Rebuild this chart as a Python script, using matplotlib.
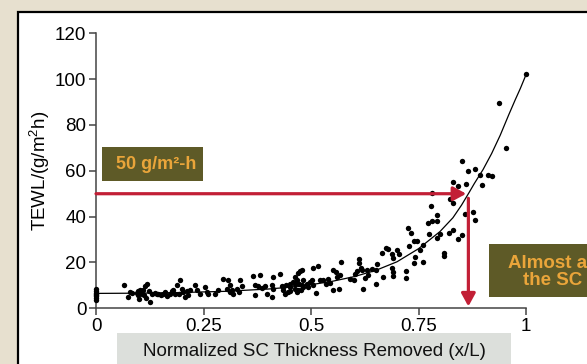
import numpy as np
import matplotlib
matplotlib.use('Agg')
import matplotlib.pyplot as plt
from matplotlib.patches import Rectangle

plt.rcParams['font.family'] = ['Liberation Sans', 'DejaVu Sans']
plt.rcParams['mathtext.default'] = 'regular'

# measured TEWL vs fraction of stratum corneum removed
x_pts = [0, 0, 0, 0, 0, 0, 0, 0,
         0.065, 0.078, 0.083, 0.075, 0.095, 0.098, 0.101, 0.097, 0.102, 0.106,
         0.11, 0.114, 0.118, 0.112, 0.116, 0.124, 0.13, 0.126, 0.137, 0.141,
         0.145, 0.15, 0.156, 0.16, 0.166, 0.171, 0.176, 0.18, 0.184, 0.189,
         0.194, 0.195, 0.199, 0.203, 0.207, 0.211, 0.215, 0.219, 0.23, 0.234,
         0.242, 0.253, 0.257, 0.261, 0.277, 0.284, 0.296, 0.308, 0.312, 0.304,
         0.316, 0.312, 0.319, 0.327, 0.335, 0.339, 0.333, 0.366, 0.381, 0.37,
         0.377, 0.385, 0.393, 0.37, 0.397, 0.409, 0.411, 0.412, 0.409, 0.428,
         0.432, 0.436, 0.443, 0.451, 0.459, 0.463, 0.47, 0.451, 0.467, 0.478,
         0.49, 0.451, 0.447, 0.436, 0.44, 0.468, 0.474, 0.479, 0.463, 0.463,
         0.47, 0.473, 0.482, 0.482, 0.477, 0.498, 0.494, 0.502, 0.505, 0.512,
         0.505, 0.517, 0.521, 0.529, 0.54, 0.544, 0.535, 0.552, 0.558, 0.567,
         0.56, 0.566, 0.552, 0.57, 0.591, 0.6, 0.602, 0.611, 0.612, 0.616,
         0.608, 0.619, 0.62, 0.626, 0.631, 0.633, 0.641, 0.651, 0.653, 0.65,
         0.665, 0.674, 0.678, 0.668, 0.689, 0.701, 0.691, 0.704, 0.689, 0.691,
         0.69, 0.72, 0.721, 0.74, 0.742, 0.76, 0.727, 0.739, 0.746, 0.725,
         0.732, 0.753, 0.761, 0.771, 0.782, 0.792, 0.774, 0.8, 0.792, 0.779,
         0.782, 0.792, 0.809, 0.809, 0.822, 0.831, 0.823, 0.831, 0.843, 0.852,
         0.857, 0.877, 0.881, 0.831, 0.842, 0.86, 0.897, 0.852, 0.866, 0.881,
         0.894, 0.912, 0.92, 0.938, 0.954, 1.0]
y_pts = [3.5, 4.5, 5.2, 5.8, 6.3, 6.8, 7.5, 8.3,
         10.3, 7.1, 6.7, 4.9, 6.7, 5.7, 4.2, 7.5, 8.2, 6.4,
         7.9, 9.6, 10.5, 5.7, 4.7, 7.6, 6.1, 2.8, 6.7, 6.1,
         6.4, 5.7, 6.1, 6.9, 5.2, 6.4, 7.6, 8.2, 6.1, 10,
         6.4, 12.5, 8.6, 7.1, 4.9, 7.6, 5.7, 8.2, 10, 7.9,
         6.4, 9.3, 7.1, 6.1, 6.1, 8.2, 13, 12.5, 10, 8.6,
         8.2, 7.1, 6.4, 8.6, 12.2, 9.6, 7.1, 14, 14.4, 10,
         9.6, 9, 9.6, 5.7, 6.4, 10, 13.7, 8.6, 4.9, 15.1,
         9.6, 7.9, 10, 10.5, 11.5, 13.7, 15.4, 7.6, 7.1, 10,
         10.8, 9.3, 7.1, 9.3, 6.4, 12.5, 16.3, 16.9, 10.5, 8.6,
         7.9, 10.8, 12.2, 9.3, 7.9, 11.5, 9.3, 12.2, 10, 6.7,
         17.8, 18.3, 12.2, 12.2, 13, 11.2, 10.8, 16.9, 15.8, 14.7,
         13.7, 8.6, 8.2, 20.4, 13, 12.2, 14.8, 21.7, 19.8, 17.8,
         16.3, 16.6, 8.6, 13.2, 16.6, 14.7, 17, 16.9, 19.2, 10.5,
         24.1, 26.5, 25.7, 13.7, 23.9, 25.6, 22.1, 23.6, 17.8, 15.8,
         14.3, 16.3, 13.4, 19.9, 22.4, 20.1, 27.2, 29.2, 29.2, 35,
         33, 25.3, 27.5, 37.4, 38, 38, 32.3, 32.3, 30.7, 44.5,
         50.3, 40.6, 24.3, 22.7, 33, 34, 47.6, 46, 30.1, 31.8,
         41, 42, 38.4, 55.3, 53.2, 54.1, 53.7, 64.1, 59.8, 60.6,
         58, 58, 57.6, 89.6, 69.9, 102.4]

# fitted trend line
fit_x = [0, 0.1, 0.2, 0.3, 0.4, 0.45, 0.5, 0.55, 0.6, 0.65, 0.7, 0.75,
         0.8, 0.83, 0.85, 0.866, 0.88, 0.9, 0.92, 0.94, 0.96, 0.975, 0.987, 0.998]
fit_y = [6.5, 6.6, 6.9, 7.4, 8.4, 9.2, 10.3, 11.8, 13.8, 16.5, 20.3, 26,
         33.5, 39.5, 45, 50, 54.5, 60.5, 67.5, 75.5, 84.5, 91, 96, 101]

xticks = [0, 0.25, 0.5, 0.75, 1]
xticklabels = ['0', '0.25', '0.5', '0.75', '1']
yticks = [0, 20, 40, 60, 80, 100, 120]

target_tewl = 50
target_frac = 0.864

W, H = 587.0, 364.0
bg = '#e7e0cf'
olive = '#5e5a27'
gold = '#eaa53a'
red = '#c21f36'


def fx(px):
    return px / W


def fy(py):
    return 1 - py / H


fig = plt.figure(figsize=(5.87, 3.64), dpi=100)
fig.patch.set_facecolor(bg)

# white slide panel
panel = Rectangle((fx(18), fy(380)), 1.2, fy(12) - fy(380), transform=fig.transFigure,
                  facecolor='white', edgecolor='black', lw=1.6, zorder=0)
fig.add_artist(panel)

ax = fig.add_axes([fx(96), fy(308.3), fx(526) - fx(96), fy(33.3) - fy(308.3)])
ax.patch.set_visible(False)

ax.scatter(x_pts, y_pts, s=15, c='black', linewidths=0, zorder=3, clip_on=False)
ax.plot(fit_x, fit_y, color='black', lw=0.9, zorder=3)

ax.set_xlim(0, 1)
ax.set_ylim(0, 120)
ax.set_xticks(xticks)
ax.set_xticklabels(xticklabels)
ax.set_yticks(yticks)
for s in ['top', 'right']:
    ax.spines[s].set_visible(False)
for s in ['left', 'bottom']:
    ax.spines[s].set_color('#444444')
    ax.spines[s].set_linewidth(1.1)
ax.tick_params(axis='both', direction='out', length=5, width=1.1, color='#444444',
               labelsize=13.5, pad=2)
ax.set_ylabel('TEWL/(g/m$^2$h)', fontsize=13.5, labelpad=2)

# red guide arrows: 50 g/m2-h level down to the x axis
ax.annotate('', xy=(target_frac - 0.003, target_tewl), xytext=(0, target_tewl),
            arrowprops=dict(arrowstyle='-|>,head_length=0.55,head_width=0.3', color=red,
                            lw=2.3, shrinkA=0, shrinkB=0, mutation_scale=14),
            annotation_clip=False, zorder=4)
ax.annotate('', xy=(target_frac + 0.002, 0.8), xytext=(target_frac + 0.002, target_tewl - 2),
            arrowprops=dict(arrowstyle='-|>,head_length=0.55,head_width=0.3', color=red,
                            lw=2.3, shrinkA=0, shrinkB=0, mutation_scale=14),
            annotation_clip=False, zorder=4)

# x label in a grey strip
fig.add_artist(Rectangle((fx(117), fy(380)), fx(511) - fx(117), fy(333) - fy(380),
                         transform=fig.transFigure, facecolor='#dcdfdb', edgecolor='none'))
fig.text(fx(314), fy(352), 'Normalized SC Thickness Removed (x/L)', fontsize=13.5,
         ha='center', va='center', color='#111111')

# callout boxes
fig.add_artist(Rectangle((fx(102), fy(181)), fx(203) - fx(102), fy(147) - fy(181),
                         transform=fig.transFigure, facecolor=olive, edgecolor='none'))
fig.text(fx(156), fy(164.5), '50 g/m²-h', fontsize=13, fontweight='bold',
         ha='center', va='center', color=gold)

fig.add_artist(Rectangle((fx(489), fy(297)), 0.3, fy(244) - fy(297),
                         transform=fig.transFigure, facecolor=olive, edgecolor='none'))
fig.text(fx(553), fy(272), 'Almost all\nthe SC', fontsize=13.5, fontweight='bold',
         ha='center', va='center', color=gold, linespacing=1.05)

fig.savefig('out.png', dpi=100, facecolor=fig.get_facecolor())
